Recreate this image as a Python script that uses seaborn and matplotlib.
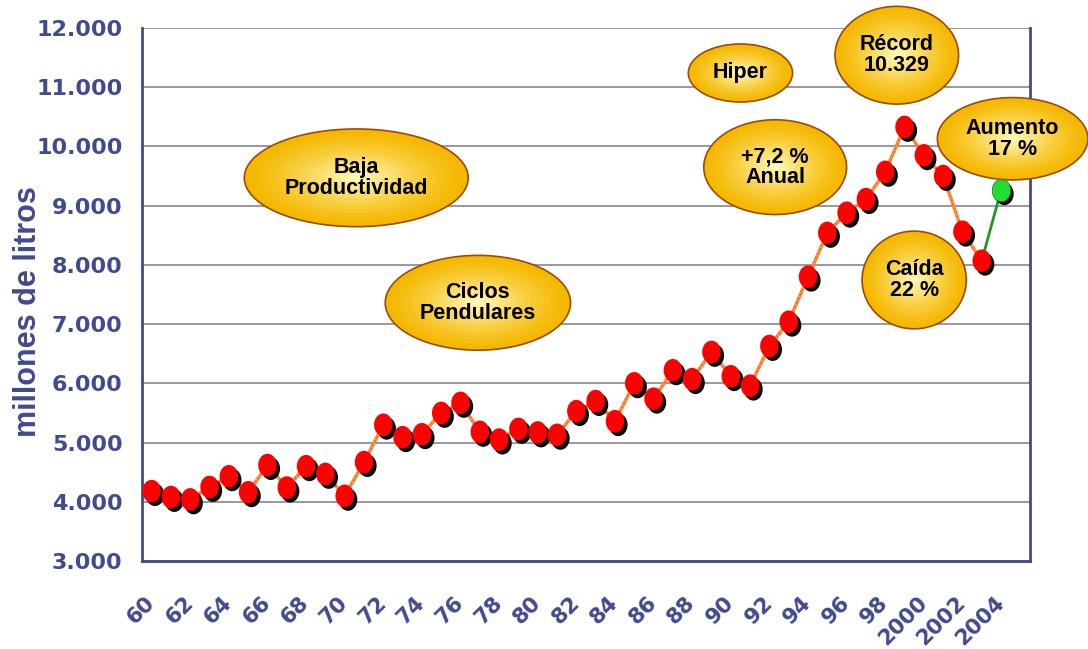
import numpy as np
import pandas as pd
import matplotlib
matplotlib.use("Agg")
import matplotlib.pyplot as plt
import matplotlib.transforms as mtransforms
from matplotlib.patches import Ellipse
from matplotlib.path import Path
import seaborn as sns

# Datos: produccion anual (millones de litros), 1960-2004
anios = [1960, 1961, 1962, 1963, 1964, 1965, 1966, 1967, 1968, 1969,
         1970, 1971, 1972, 1973, 1974, 1975, 1976, 1977, 1978, 1979,
         1980, 1981, 1982, 1983, 1984, 1985, 1986, 1987, 1988, 1989,
         1990, 1991, 1992, 1993, 1994, 1995, 1996, 1997, 1998, 1999,
         2000, 2001, 2002, 2003, 2004]
litros = [4180, 4080, 4040, 4250, 4430, 4160, 4620, 4240, 4600, 4470,
          4100, 4670, 5300, 5090, 5140, 5500, 5670, 5180, 5050, 5230,
          5170, 5130, 5530, 5700, 5360, 6000, 5740, 6220, 6070, 6530,
          6120, 5960, 6630, 7040, 7800, 8540, 8880, 9110, 9570, 10329,
          9850, 9500, 8560, 8070, 9260]
etiquetas_x = ['60', '62', '64', '66', '68', '70', '72', '74', '76', '78',
               '80', '82', '84', '86', '88', '90', '92', '94', '96', '98',
               '2000', '2002', '2004']
ticks_y = [3000, 4000, 5000, 6000, 7000, 8000, 9000, 10000, 11000, 12000]
etiquetas_y = ['3.000', '4.000', '5.000', '6.000', '7.000', '8.000',
               '9.000', '10.000', '11.000', '12.000']

# Globos de texto: (texto, x, y, ancho, alto) en coordenadas de datos
globos = [
    ('Baja\nProductividad', 10.6, 9470, 11.6, 1650),
    ('Ciclos\nPendulares', 16.9, 7360, 9.6, 1600),
    ('Hiper', 30.5, 11240, 5.4, 980),
    ('+7,2 %\nAnual', 32.3, 9650, 7.4, 1600),
    ('Récord\n10.329', 38.6, 11540, 6.4, 1650),
    ('Aumento\n17 %', 44.6, 10130, 7.8, 1390),
    ('Caída\n22 %', 39.5, 7745, 5.4, 1650),
]

AZUL = '#404A8E'

df = pd.DataFrame({'anio': anios, 'litros': litros})
df['pos'] = np.arange(len(df))
df_rojo = df[df['anio'] <= 2003]
df_verde = df[df['anio'] >= 2003]

sns.set_style('white')
plt.rcParams['font.family'] = ['DejaVu Sans']

fig = plt.figure(figsize=(10.88, 6.49), dpi=100)
ax = fig.add_axes([0.1305, 0.1356, 0.8162, 0.8213])

# marcador eliptico (mas alto que ancho)
circ = Path.unit_circle()
marcador = Path(circ.vertices * np.array([0.82, 1.0]), circ.codes)

sombra = mtransforms.offset_copy(ax.transData, fig=fig, x=2.4, y=-2.6, units='points')

sns.lineplot(data=df_rojo, x='pos', y='litros', color='#FF7A26', lw=2.4, ax=ax, zorder=3)
sns.lineplot(data=df_verde, x='pos', y='litros', color='#1E9A1E', lw=2.0, ax=ax, zorder=3)
ax.plot(df_rojo['pos'], df_rojo['litros'], color='#FFD2A8', lw=0.8,
        ls=(0, (1, 3)), zorder=3)

sns.scatterplot(data=df, x='pos', y='litros', marker=marcador, s=265, color='black',
                edgecolor='none', linewidth=0, transform=sombra, ax=ax, zorder=4, legend=False)
sns.scatterplot(data=df_rojo, x='pos', y='litros', marker=marcador, s=265, color='#FF0000',
                edgecolor='none', linewidth=0, ax=ax, zorder=5, legend=False)
sns.scatterplot(data=df[df['anio'] == 2004], x='pos', y='litros', marker=marcador, s=265,
                color='#22DD33', edgecolor='#117711', linewidth=0.5, ax=ax, zorder=5, legend=False)

# globos con degradado radial
ca = np.array(matplotlib.colors.to_rgb('#F5B800'))
cb = np.array(matplotlib.colors.to_rgb('#FFF7B5'))
for texto, gx, gy, gw, gh in globos:
    n = 14
    for i in range(n):
        f = 1 - i / n
        col = ca + (cb - ca) * (i / (n - 1)) ** 1.3
        e = Ellipse((gx, gy), gw * f, gh * f, facecolor=col, edgecolor='none',
                    zorder=6, clip_on=False)
        ax.add_patch(e)
    borde = Ellipse((gx, gy), gw, gh, facecolor='none', edgecolor='#9C4A0A',
                    lw=1.2, zorder=6, clip_on=False)
    ax.add_patch(borde)
    ax.text(gx, gy, texto, ha='center', va='center', fontsize=15.5, fontweight='bold',
            family=['Liberation Sans', 'DejaVu Sans'], color='black',
            linespacing=1.0, zorder=7, clip_on=False)

ax.set_xlim(-0.5, 45.5)
ax.set_ylim(3000, 12000)
ax.set_yticks(ticks_y)
ax.set_yticklabels(etiquetas_y)
ax.set_xticks(np.arange(0, len(anios), 2))
ax.set_xticklabels(etiquetas_x, rotation=45, ha='right', va='center', rotation_mode='anchor')
ax.set_xticks(np.arange(-0.5, 46, 1), minor=True)

ax.tick_params(axis='x', which='major', length=0, pad=28, labelsize=15.5, labelcolor=AZUL)
ax.tick_params(axis='x', which='minor', length=6, width=1.5, color=AZUL, direction='out')
ax.tick_params(axis='y', length=8, width=1.5, color=AZUL, direction='out', pad=6,
               labelsize=16, labelcolor=AZUL)
for lab in ax.get_xticklabels() + ax.get_yticklabels():
    lab.set_fontweight('bold')

ax.set_xlabel('')
ax.set_ylabel('')
ax.yaxis.grid(True, color='#999999', lw=1.4)
ax.xaxis.grid(False)
ax.set_axisbelow(True)

for lado in ['left', 'bottom', 'right']:
    ax.spines[lado].set_visible(True)
    ax.spines[lado].set_color(AZUL)
    ax.spines[lado].set_linewidth(2)
ax.spines['top'].set_visible(False)

fig.text(28 / 1088, 1 - 312 / 649, 'millones de litros', rotation=90, ha='center', va='center',
         fontsize=22, fontweight='bold', color=AZUL, family=['Liberation Sans', 'DejaVu Sans'])

fig.savefig('out.png', dpi=100)
plt.close(fig)
